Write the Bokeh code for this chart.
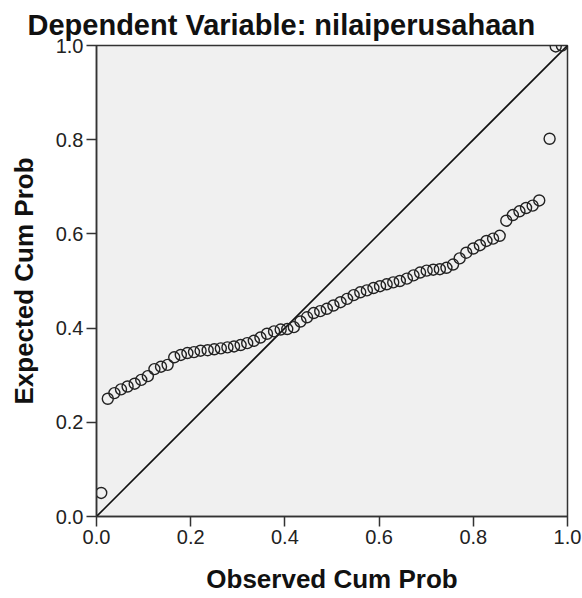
from bokeh.plotting import figure
from bokeh.models import Range1d, FixedTicker, PrintfTickFormatter
from bokeh.embed import file_html
from bokeh.resources import INLINE

title_text = "Dependent Variable: nilaiperusahaan"
x_label = "Observed Cum Prob"
y_label = "Expected Cum Prob"
tick_values = [0.0, 0.2, 0.4, 0.6, 0.8, 1.0]

observed = [0.010, 0.024, 0.038, 0.052, 0.066, 0.081, 0.095, 0.109, 0.123, 0.137,
            0.151, 0.165, 0.179, 0.193, 0.207, 0.221, 0.236, 0.250, 0.264, 0.278,
            0.292, 0.306, 0.320, 0.334, 0.348, 0.362, 0.377, 0.391, 0.405, 0.419,
            0.433, 0.447, 0.461, 0.475, 0.489, 0.503, 0.518, 0.532, 0.546, 0.560,
            0.574, 0.588, 0.602, 0.616, 0.630, 0.644, 0.659, 0.673, 0.687, 0.701,
            0.715, 0.729, 0.743, 0.757, 0.771, 0.785, 0.800, 0.814, 0.828, 0.842,
            0.856, 0.870, 0.884, 0.898, 0.912, 0.926, 0.940, 0.962, 0.975, 0.988]
expected = [0.050, 0.250, 0.262, 0.270, 0.276, 0.282, 0.290, 0.298, 0.313, 0.318,
            0.322, 0.338, 0.343, 0.347, 0.349, 0.352, 0.353, 0.355, 0.357, 0.359,
            0.361, 0.364, 0.368, 0.373, 0.380, 0.388, 0.393, 0.397, 0.398, 0.402,
            0.414, 0.423, 0.432, 0.436, 0.441, 0.448, 0.455, 0.462, 0.470, 0.476,
            0.480, 0.485, 0.489, 0.493, 0.497, 0.500, 0.505, 0.512, 0.518, 0.522,
            0.524, 0.525, 0.528, 0.535, 0.548, 0.560, 0.569, 0.576, 0.585, 0.590,
            0.596, 0.628, 0.640, 0.648, 0.655, 0.660, 0.671, 0.802, 0.998, 1.000]
diag = [0.0, 1.0]

FONT = "Liberation Sans"
DARK = "#333333"

p = figure(width=582, height=598, output_backend="svg", toolbar_location=None,
           x_range=Range1d(0, 1), y_range=Range1d(0, 1),
           min_border_left=96, min_border_right=15, min_border_top=45, min_border_bottom=82)

p.title.text = title_text
p.title.text_font = FONT
p.title.text_font_size = "29px"
p.title.text_font_style = "bold"
p.title.text_color = "#111111"
p.title.align = "left"
p.title.offset = -69
p.title.standoff = 9

p.background_fill_color = "#f0f0f0"
p.border_fill_color = "white"
p.outline_line_color = DARK
p.outline_line_width = 1.5
p.grid.visible = False

for ax in (p.xaxis[0], p.yaxis[0]):
    ax.ticker = FixedTicker(ticks=tick_values)
    ax.formatter = PrintfTickFormatter(format="%.1f")
    ax.minor_tick_line_color = None
    ax.major_tick_out = 10
    ax.major_tick_in = 0
    ax.major_tick_line_color = DARK
    ax.major_tick_line_width = 1.5
    ax.axis_line_color = DARK
    ax.axis_line_width = 1.5
    ax.major_label_text_font = FONT
    ax.major_label_text_font_size = "20px"
    ax.major_label_text_color = "#222222"
    ax.major_label_standoff = 3
    ax.axis_label_text_font = FONT
    ax.axis_label_text_font_size = "26px"
    ax.axis_label_text_font_style = "bold"
    ax.axis_label_text_color = "#111111"

p.xaxis.axis_label = x_label
p.yaxis.axis_label = y_label
p.xaxis.axis_label_standoff = 17
p.yaxis.axis_label_standoff = 14

p.line(diag, diag, line_color="#111111", line_width=1.6)
p.scatter(observed, expected, size=11, fill_color=None, line_color="#222222", line_width=1.4)

open("out.html", "w").write(file_html(p, INLINE))
